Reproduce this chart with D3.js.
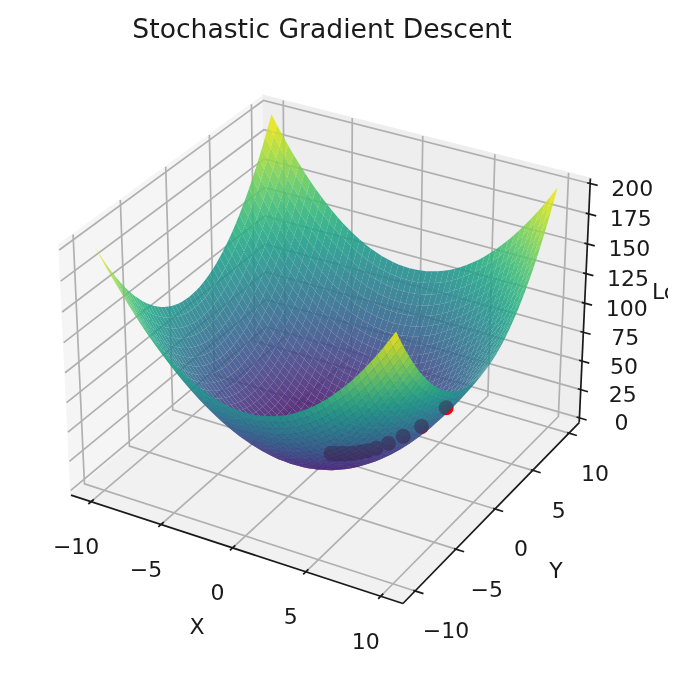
<!DOCTYPE html>
<html>
<head>
<meta charset="utf-8">
<script src="https://cdn.jsdelivr.net/npm/d3@7"></script>
<style>
html,body{margin:0;padding:0;background:#fff}
svg{display:block;font-family:"DejaVu Sans",sans-serif;fill:#1a1a1a;filter:blur(0.7px)}
</style>
</head>
<body>
<svg id="chart" width="692" height="674"></svg>
<script>
const titleText = "Stochastic Gradient Descent";
const axisNames = ["X", "Y", "Lo"];
const xTicks = [-10, -5, 0, 5, 10];
const yTicks = [-10, -5, 0, 5, 10];
const zTicks = [0, 25, 50, 75, 100, 125, 150, 175, 200];
const tickText = v => String(v).replace("-", "\u2212");

// distance from the centre of the surface along each side
const gridSteps = [0,0.4,0.8,1.2,1.6,2,2.4,2.8,3.2,3.6,4,4.4,4.8,5.2,5.6,6,6.4,6.8,7.2,7.6,8,8.4,8.8,9.2,9.6,10];
// loss over one quadrant (rows: |y|, columns: |x|); the surface is mirror-symmetric in the picture
const lossQuadrant = [
[0,.2,.6,1.4,2.6,4,5.8,7.8,10.2,13,16,19.4,23,27,31.4,36,41,46.2,51.8,57.8,64,70.6,77.4,84.6,92.2,100],
[.2,.4,.8,1.6,2.8,4.2,6,8,10.4,13.2,16.2,19.6,23.2,27.2,31.6,36.2,41.2,46.4,52,58,64.2,70.8,77.6,84.8,92.4,100.2],
[.6,.8,1.2,2,3.2,4.6,6.4,8.4,10.8,13.6,16.6,20,23.6,27.6,32,36.6,41.6,46.8,52.4,58.4,64.6,71.2,78,85.2,92.8,100.6],
[1.4,1.6,2,2.8,4,5.4,7.2,9.2,11.6,14.4,17.4,20.8,24.4,28.4,32.8,37.4,42.4,47.6,53.2,59.2,65.4,72,78.8,86,93.6,101.4],
[2.6,2.8,3.2,4,5.2,6.6,8.4,10.4,12.8,15.6,18.6,22,25.6,29.6,34,38.6,43.6,48.8,54.4,60.4,66.6,73.2,80,87.2,94.8,102.6],
[4,4.2,4.6,5.4,6.6,8,9.8,11.8,14.2,17,20,23.4,27,31,35.4,40,45,50.2,55.8,61.8,68,74.6,81.4,88.6,96.2,104],
[5.8,6,6.4,7.2,8.4,9.8,11.6,13.6,16,18.8,21.8,25.2,28.8,32.8,37.2,41.8,46.8,52,57.6,63.6,69.8,76.4,83.2,90.4,98,105.8],
[7.8,8,8.4,9.2,10.4,11.8,13.6,15.6,18,20.8,23.8,27.2,30.8,34.8,39.2,43.8,48.8,54,59.6,65.6,71.8,78.4,85.2,92.4,100,107.8],
[10.2,10.4,10.8,11.6,12.8,14.2,16,18,20.4,23.2,26.2,29.6,33.2,37.2,41.6,46.2,51.2,56.4,62,68,74.2,80.8,87.6,94.8,102.4,110.2],
[13,13.2,13.6,14.4,15.6,17,18.8,20.8,23.2,26,29,32.4,36,40,44.4,49,54,59.2,64.8,70.8,77,83.6,90.4,97.6,105.2,113],
[16,16.2,16.6,17.4,18.6,20,21.8,23.8,26.2,29,32,35.4,39,43,47.4,52,57,62.2,67.8,73.8,80,86.6,93.4,100.6,108.2,116],
[19.4,19.6,20,20.8,22,23.4,25.2,27.2,29.6,32.4,35.4,38.8,42.4,46.4,50.8,55.4,60.4,65.6,71.2,77.2,83.4,90,96.8,104,111.6,119.4],
[23,23.2,23.6,24.4,25.6,27,28.8,30.8,33.2,36,39,42.4,46,50,54.4,59,64,69.2,74.8,80.8,87,93.6,100.4,107.6,115.2,123],
[27,27.2,27.6,28.4,29.6,31,32.8,34.8,37.2,40,43,46.4,50,54,58.4,63,68,73.2,78.8,84.8,91,97.6,104.4,111.6,119.2,127],
[31.4,31.6,32,32.8,34,35.4,37.2,39.2,41.6,44.4,47.4,50.8,54.4,58.4,62.8,67.4,72.4,77.6,83.2,89.2,95.4,102,108.8,116,123.6,131.4],
[36,36.2,36.6,37.4,38.6,40,41.8,43.8,46.2,49,52,55.4,59,63,67.4,72,77,82.2,87.8,93.8,100,106.6,113.4,120.6,128.2,136],
[41,41.2,41.6,42.4,43.6,45,46.8,48.8,51.2,54,57,60.4,64,68,72.4,77,82,87.2,92.8,98.8,105,111.6,118.4,125.6,133.2,141],
[46.2,46.4,46.8,47.6,48.8,50.2,52,54,56.4,59.2,62.2,65.6,69.2,73.2,77.6,82.2,87.2,92.4,98,104,110.2,116.8,123.6,130.8,138.4,146.2],
[51.8,52,52.4,53.2,54.4,55.8,57.6,59.6,62,64.8,67.8,71.2,74.8,78.8,83.2,87.8,92.8,98,103.6,109.6,115.8,122.4,129.2,136.4,144,151.8],
[57.8,58,58.4,59.2,60.4,61.8,63.6,65.6,68,70.8,73.8,77.2,80.8,84.8,89.2,93.8,98.8,104,109.6,115.6,121.8,128.4,135.2,142.4,150,157.8],
[64,64.2,64.6,65.4,66.6,68,69.8,71.8,74.2,77,80,83.4,87,91,95.4,100,105,110.2,115.8,121.8,128,134.6,141.4,148.6,156.2,164],
[70.6,70.8,71.2,72,73.2,74.6,76.4,78.4,80.8,83.6,86.6,90,93.6,97.6,102,106.6,111.6,116.8,122.4,128.4,134.6,141.2,148,155.2,162.8,170.6],
[77.4,77.6,78,78.8,80,81.4,83.2,85.2,87.6,90.4,93.4,96.8,100.4,104.4,108.8,113.4,118.4,123.6,129.2,135.2,141.4,148,154.8,162,169.6,177.4],
[84.6,84.8,85.2,86,87.2,88.6,90.4,92.4,94.8,97.6,100.6,104,107.6,111.6,116,120.6,125.6,130.8,136.4,142.4,148.6,155.2,162,169.2,176.8,184.6],
[92.2,92.4,92.8,93.6,94.8,96.2,98,100,102.4,105.2,108.2,111.6,115.2,119.2,123.6,128.2,133.2,138.4,144,150,156.2,162.8,169.6,176.8,184.4,192.2],
[100,100.2,100.6,101.4,102.6,104,105.8,107.8,110.2,113,116,119.4,123,127,131.4,136,141,146.2,151.8,157.8,164,170.6,177.4,184.6,192.2,200]
];

// descent path, estimated from the dots
const pathX = [6.7,5.3,4.25,3.4,2.7,2.2,1.75,1.4,1.1,0.9,0.7,0.55,0.45,0.35,0.3,0.2,0.18,0.15,0.1,0.08];
const pathY = [2.5,2,1.6,1.3,1,0.8,0.65,0.5,0.4,0.33,0.26,0.2,0.17,0.13,0.1,0.08,0.07,0.05,0.04,0.03];
const pathLoss = [48.5,30.5,20.6,13.2,8.3,5.5,3.5,2.2,1.4,0.9,0.6,0.3,0.2,0.1,0.1,0,0,0,0,0];

// ---------- 3D camera (elev 30, azim -60) ----------
const paneX = [-11.458, 11.458], paneY = [-11.458, 11.458], paneZ = [-4.17, 204.17];
const boxXY = 1.19, boxZ = 0.893;
const sx = d3.scaleLinear().domain(paneX).range([0, boxXY]);
const sy = d3.scaleLinear().domain(paneY).range([0, boxXY]);
const sz = d3.scaleLinear().domain(paneZ).range([0, boxZ]);
const elev = 30 * Math.PI / 180, azim = -60 * Math.PI / 180, dist = 10;
const W = [Math.cos(azim) * Math.cos(elev), Math.sin(azim) * Math.cos(elev), Math.sin(elev)];
const U = [-Math.sin(azim), Math.cos(azim), 0];
const V = [W[1]*U[2]-W[2]*U[1], W[2]*U[0]-W[0]*U[2], W[0]*U[1]-W[1]*U[0]];
const centre = [boxXY / 2, boxXY / 2, boxZ / 2];
const px = d3.scaleLinear().domain([0, 1]).range([329.8, 329.8 + 3195]);
const py = d3.scaleLinear().domain([0, 1]).range([337.3, 337.3 - 3195]);
const dot3 = (a, b) => a[0]*b[0] + a[1]*b[1] + a[2]*b[2];
function project(x, y, z) {
  const d = [sx(x) - centre[0], sy(y) - centre[1], sz(z) - centre[2]];
  const depth = dist - dot3(W, d);
  return { x: px(dot3(U, d) / depth), y: py(dot3(V, d) / depth), depth };
}
const pathOf = pts => "M" + pts.map(p => p.x.toFixed(2) + "," + p.y.toFixed(2)).join("L") + "Z";

const svg = d3.select("#chart");
const defs = svg.append("defs");
defs.append("clipPath").attr("id", "figClip").append("rect")
  .attr("x", 0).attr("y", 0).attr("width", 668).attr("height", 674);
const root = svg.append("g").attr("clip-path", "url(#figClip)");

const [x0, x1] = paneX, [y0, y1] = paneY, [z0, z1] = paneZ;

// panes
const panes = [
  { c: "#f5f5f5", q: [[x0,y0,z0],[x0,y1,z0],[x0,y1,z1],[x0,y0,z1]] },
  { c: "#eeeeee", q: [[x0,y1,z0],[x1,y1,z0],[x1,y1,z1],[x0,y1,z1]] },
  { c: "#f1f1f1", q: [[x0,y0,z0],[x1,y0,z0],[x1,y1,z0],[x0,y1,z0]] }
];
root.append("g").selectAll("path").data(panes).join("path")
  .attr("d", d => pathOf(d.q.map(p => project(...p))))
  .attr("fill", d => d.c).attr("stroke", d => d.c).attr("stroke-width", 1.6);

// grid
const gridLines = [];
xTicks.forEach(t => gridLines.push([[t,y0,z0],[t,y1,z0],[t,y1,z1]]));
yTicks.forEach(t => gridLines.push([[x1,t,z0],[x0,t,z0],[x0,t,z1]]));
zTicks.forEach(t => gridLines.push([[x1,y1,t],[x0,y1,t],[x0,y0,t]]));
const line = d3.line().x(d => d.x).y(d => d.y);
root.append("g").selectAll("path").data(gridLines).join("path")
  .attr("d", d => line(d.map(p => project(...p))))
  .attr("fill", "none").attr("stroke", "#b0b0b0").attr("stroke-width", 1.7);

// axis lines and ticks
const axisLines = [
  [[x0,y0,z0],[x1,y0,z0]],
  [[x1,y0,z0],[x1,y1,z0]],
  [[x1,y1,z0],[x1,y1,z1]]
];
xTicks.forEach(t => axisLines.push([[t,y0-0.3,z0],[t,y0+0.3,z0]]));
yTicks.forEach(t => axisLines.push([[x1-0.12,t,z0],[x1+0.55,t,z0]]));
zTicks.forEach(t => axisLines.push([[x1-0.2,y1,t],[x1+0.5,y1,t]]));
root.append("g").selectAll("path").data(axisLines).join("path")
  .attr("d", d => line(d.map(p => project(...p))))
  .attr("fill", "none").attr("stroke", "#1a1a1a").attr("stroke-width", 1.7);

// descent path dots (below the translucent surface)
const dots = pathX.map((x, i) => project(x, pathY[i], pathLoss[i])).sort((a, b) => b.depth - a.depth);
root.append("g").selectAll("circle").data(dots).join("circle")
  .attr("cx", d => d.x).attr("cy", d => d.y).attr("r", 7.5).attr("fill", "#ff0000");

// surface
const signedSteps = gridSteps.slice(1).reverse().map(v => -v).concat(gridSteps);
const stepIndex = i => Math.abs(i - (gridSteps.length - 1));
const lossAt = (i, j) => lossQuadrant[stepIndex(j)][stepIndex(i)];
const colour = d3.scaleSequential(d3.interpolateViridis).domain([0, 200]);
const facets = [];
d3.range(signedSteps.length - 1).forEach(j => {
  d3.range(signedSteps.length - 1).forEach(i => {
    const idx = [[i,j],[i+1,j],[i+1,j+1],[i,j+1]];
    const pts = idx.map(([a, b]) => project(signedSteps[a], signedSteps[b], lossAt(a, b)));
    facets.push({
      pts,
      depth: d3.mean(pts, p => p.depth),
      loss: d3.mean(idx, ([a, b]) => lossAt(a, b))
    });
  });
});
facets.sort((a, b) => b.depth - a.depth);
root.append("g").selectAll("path").data(facets).join("path")
  .attr("d", d => pathOf(d.pts))
  .attr("fill", d => colour(d.loss))
  .attr("fill-opacity", 0.88);

// the dots show through the surface as a darker tint, only where the surface covers them
defs.append("clipPath").attr("id", "surfaceClip").selectAll("path").data(facets).join("path")
  .attr("d", d => pathOf(d.pts));
root.append("g").attr("clip-path", "url(#surfaceClip)").attr("opacity", 0.33)
  .selectAll("circle").data(dots).join("circle")
  .attr("cx", d => d.x).attr("cy", d => d.y).attr("r", 7.5)
  .attr("fill", "#371437");

// text
root.append("text").attr("x", 322).attr("y", 38).attr("text-anchor", "middle")
  .attr("font-size", 26.6).text(titleText);

const tickLabel = (g, items) => g.selectAll("text").data(items).join("text")
  .attr("x", d => d.p.x + d.dx).attr("y", d => d.p.y + d.dy)
  .attr("text-anchor", "middle").attr("dominant-baseline", "central")
  .attr("font-size", 22).text(d => d.t);

tickLabel(root.append("g"), xTicks.map(t => ({ p: project(t, y0, z0), dx: -15, dy: 45, t: tickText(t) })));
tickLabel(root.append("g"), yTicks.map(t => ({ p: project(x1, t, z0), dx: t < 0 ? 31 : 26, dy: 40, t: tickText(t) })));
tickLabel(root.append("g"), zTicks.map(t => ({ p: project(x1, y1, t), dx: 42, dy: 5, t: tickText(t) })));

const axisTitle = (t, x, y, anchor) => root.append("text").attr("x", x).attr("y", y)
  .attr("text-anchor", anchor).attr("dominant-baseline", "central").attr("font-size", 22).text(t);
axisTitle(axisNames[0], 197, 626, "middle");
axisTitle(axisNames[1], 556, 570, "middle");
axisTitle(axisNames[2], 652, 291, "start");
</script>
</body>
</html>
